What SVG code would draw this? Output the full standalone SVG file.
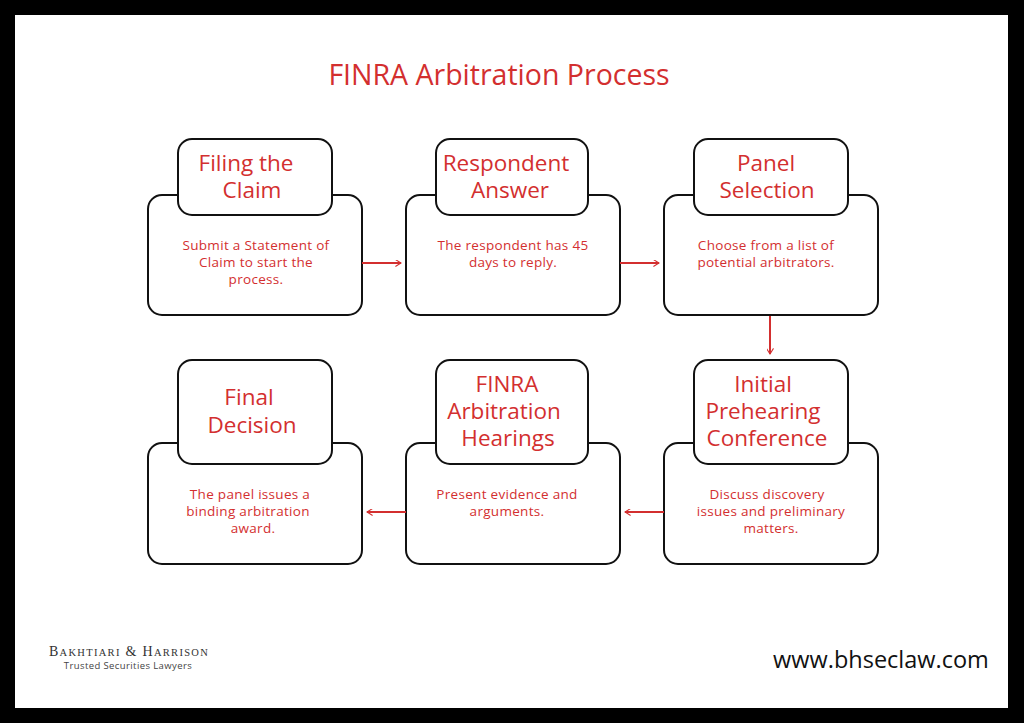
<svg xmlns="http://www.w3.org/2000/svg" width="1024" height="723" viewBox="0 0 1024 723">
<style>
.b{fill:#fff;stroke:#111;stroke-width:2}
.h{font-family:"Open Sans",sans-serif;font-size:22.5px;fill:#d32f2f;text-anchor:middle}
.t{font-family:"Open Sans",sans-serif;font-size:13.5px;fill:#d32f2f;text-anchor:middle;letter-spacing:0.3px}
.c{stroke:#d32f2f;stroke-width:2;fill:none;marker-end:url(#a)}
</style>
<defs><marker id="a" viewBox="0 0 10 10" refX="9" refY="5" markerWidth="7" markerHeight="7" orient="auto" markerUnits="userSpaceOnUse"><path d="M1 0L9 5L1 10" fill="none" stroke="#d32f2f" stroke-width="1.5"/></marker></defs>
<rect width="1024" height="723" fill="#000"/>
<rect x="15" y="15" width="993" height="693" fill="#fff"/>
<text x="499" y="85" font-family="Open Sans,sans-serif" font-size="28.5" fill="#d32f2f" text-anchor="middle">FINRA Arbitration Process</text>
<g id="n1"><rect class="b" x="148" y="195" width="214" height="120" rx="14"/><rect class="b" x="178" y="139" width="154" height="76" rx="14"/><text class="h" x="246" y="171">Filing the</text><text class="h" x="252" y="198">Claim</text><text class="t" x="256" y="250">Submit a Statement of</text><text class="t" x="256" y="267">Claim to start the</text><text class="t" x="256" y="284">process.</text></g>
<g id="n2"><rect class="b" x="406" y="195" width="214" height="120" rx="14"/><rect class="b" x="436" y="139" width="152" height="76" rx="14"/><text class="h" x="506" y="171">Respondent</text><text class="h" x="510" y="198">Answer</text><text class="t" x="513" y="250">The respondent has 45</text><text class="t" x="513" y="267">days to reply.</text></g>
<g id="n3"><rect class="b" x="664" y="195" width="214" height="120" rx="14"/><rect class="b" x="694" y="139" width="154" height="76" rx="14"/><text class="h" x="766" y="171">Panel</text><text class="h" x="767" y="198">Selection</text><text class="t" x="766" y="250">Choose from a list of</text><text class="t" x="766" y="267">potential arbitrators.</text></g>
<g id="n4"><rect class="b" x="664" y="443" width="214" height="121" rx="14"/><rect class="b" x="694" y="360" width="154" height="104" rx="14"/><text class="h" x="763" y="392">Initial</text><text class="h" x="763" y="419">Prehearing</text><text class="h" x="767" y="446">Conference</text><text class="t" x="767" y="499">Discuss discovery</text><text class="t" x="771" y="516">issues and preliminary</text><text class="t" x="771" y="533">matters.</text></g>
<g id="n5"><rect class="b" x="406" y="443" width="214" height="121" rx="14"/><rect class="b" x="436" y="360" width="152" height="104" rx="14"/><text class="h" x="507" y="392">FINRA</text><text class="h" x="504" y="419">Arbitration</text><text class="h" x="508" y="446">Hearings</text><text class="t" x="507" y="499">Present evidence and</text><text class="t" x="507" y="516">arguments.</text></g>
<g id="n6"><rect class="b" x="148" y="443" width="214" height="121" rx="14"/><rect class="b" x="178" y="360" width="154" height="104" rx="14"/><text class="h" x="249" y="405">Final</text><text class="h" x="252" y="433">Decision</text><text class="t" x="250" y="499">The panel issues a</text><text class="t" x="248" y="516">binding arbitration</text><text class="t" x="253" y="533">award.</text></g>
<g id="connectors"><path class="c" d="M362 263H401"/><path class="c" d="M620 263H659"/><path class="c" d="M770 316V354"/><path class="c" d="M664 512H625"/><path class="c" d="M406 512H367"/></g>
<text x="129" y="656" font-family="Liberation Serif,serif" font-size="14" fill="#333" text-anchor="middle" letter-spacing="1.3">B<tspan font-size="10.5">AKHTIARI</tspan> &amp; H<tspan font-size="10.5">ARRISON</tspan></text>
<text x="128" y="669" font-family="Open Sans,sans-serif" font-size="9.5" fill="#444" text-anchor="middle" letter-spacing="0.4">Trusted Securities Lawyers</text>
<text x="881" y="668" font-family="Open Sans,sans-serif" font-size="23.5" fill="#111" text-anchor="middle">www.bhseclaw.com</text>
</svg>
